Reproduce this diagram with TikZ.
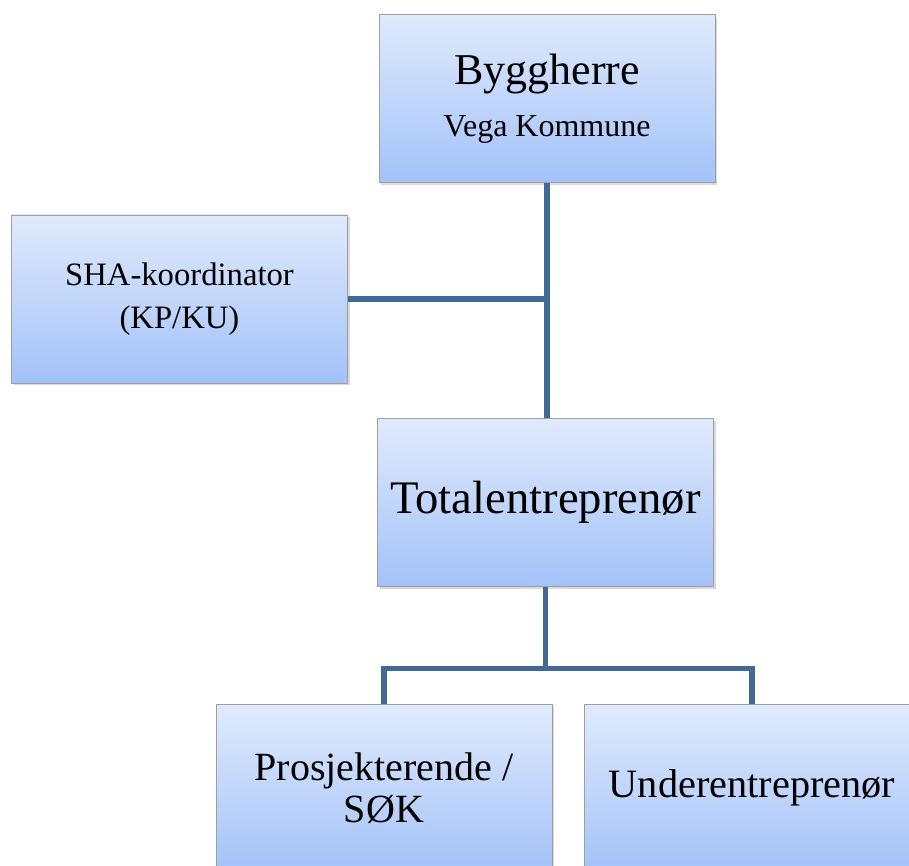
\documentclass[tikz,border=0pt]{standalone}
\usepackage{fontspec}
\setmainfont{Liberation Serif}
\usepackage{tikz}
\usetikzlibrary{shadows}
\usepackage{xcolor}

\definecolor{boxtop}{RGB}{224,234,252}
\definecolor{boxbot}{RGB}{163,194,249}
\definecolor{linkblue}{RGB}{66,104,150}

\begin{document}
\begin{tikzpicture}[x=0.75pt,y=0.75pt,yscale=-1,xscale=1,
        orgbox/.style={rectangle, draw=gray!75, line width=0.6pt, top color=boxtop, bottom color=boxbot,
                minimum width=252pt, minimum height=126pt, align=center, inner sep=0pt,
                drop shadow={opacity=0.3, shadow xshift=1.8pt, shadow yshift=-1.8pt}},
        orgline/.style={draw=linkblue, line width=3.8pt}]
        \useasboundingbox (0,0) rectangle (909,866); %set diagram to 909 x 866

        % Boxes
        \node [orgbox] (bygg) at (547,98.5) {\fontsize{33}{40}\selectfont Byggherre\\[15.5pt]\fontsize{24}{28}\selectfont Vega Kommune};
        \node [orgbox] (sha) at (179.5,299) {\fontsize{24.5}{32}\selectfont SHA-koordinator\\[13.5pt]\fontsize{24.5}{32}\selectfont (KP/KU)};
        \node [orgbox] (total) at (545.5,502.5) {\fontsize{35}{40}\selectfont Totalentreprenør};
        \node [orgbox] (prosj) at (384,788) {\fontsize{30}{30}\selectfont Prosjekterende /\\[4pt]\fontsize{30}{30}\selectfont SØK};
        \node [orgbox] (under) at (752,788) {\fontsize{30.2}{30}\selectfont Underentreprenør};

        % Lines
        \draw [orgline] (bygg.south) -- (bygg.south |- total.north);
        \draw [orgline] (sha.east) -- (sha.east -| bygg.south);
        \path (total.south) ++(0,82) coordinate (split);
        \draw [orgline] (total.south) -- (split) -| (prosj.north);
        \draw [orgline] (split) -| (under.north);

\end{tikzpicture}
\end{document}
